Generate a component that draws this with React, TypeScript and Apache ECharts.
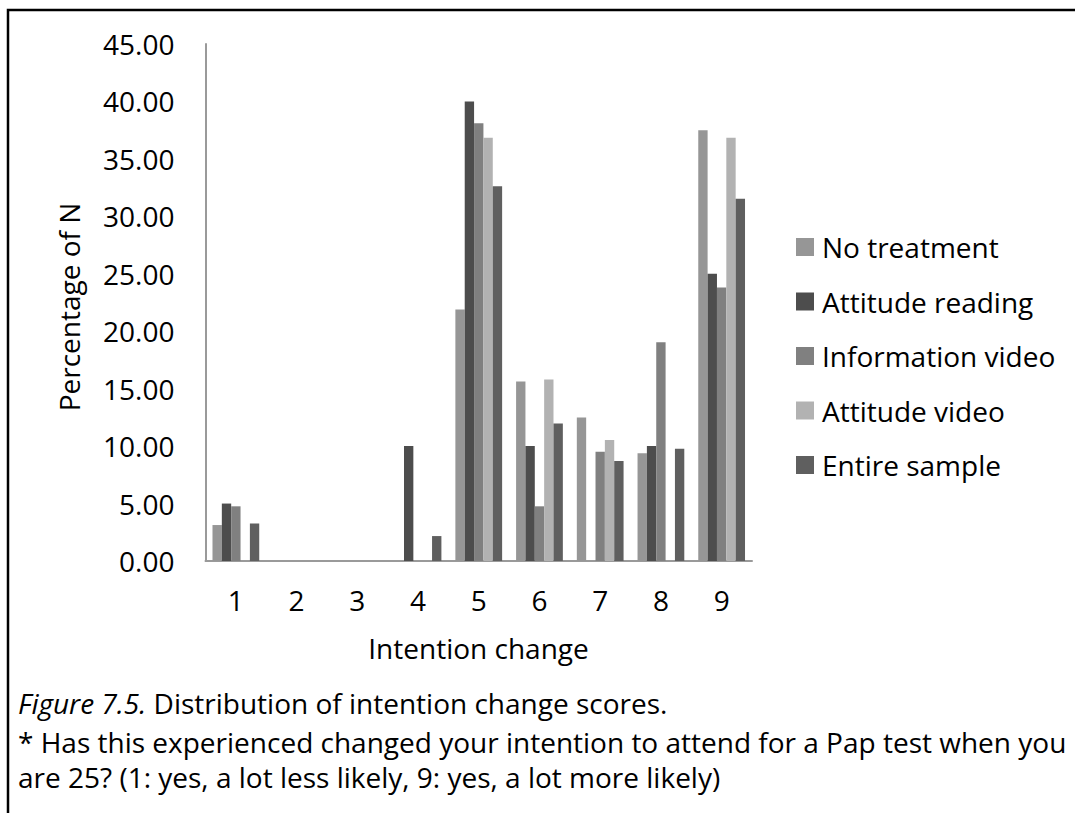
import React, { useEffect, useRef } from "react";
import * as echarts from "echarts";

// Intention change score (1 = a lot less likely ... 9 = a lot more likely)
const categories = ["1", "2", "3", "4", "5", "6", "7", "8", "9"];

// Percentage of N per group
const noTreatment = [3.13, 0, 0, 0, 21.88, 15.63, 12.5, 9.38, 37.5];
const attitudeReading = [5.0, 0, 0, 10.0, 40.0, 10.0, 0, 10.0, 25.0];
const informationVideo = [4.76, 0, 0, 0, 38.1, 4.76, 9.52, 19.05, 23.81];
const attitudeVideo = [0, 0, 0, 0, 36.84, 15.79, 10.53, 0, 36.84];
const entireSample = [3.26, 0, 0, 2.17, 32.61, 11.96, 8.7, 9.78, 31.52];

const seriesNames = [
  "No treatment",
  "Attitude reading",
  "Information video",
  "Attitude video",
  "Entire sample",
];
const seriesValues = [noTreatment, attitudeReading, informationVideo, attitudeVideo, entireSample];
const seriesColors = ["#969696", "#4d4d4d", "#808080", "#b2b2b2", "#5f5f5f"];

const yAxisTitle = "Percentage of N";
const xAxisTitle = "Intention change";
const captionLine1 = "{i|Figure 7.5.} Distribution of intention change scores.";
const captionLine2 =
  "* Has this experienced changed your intention to attend for a Pap test when you";
const captionLine3 = "are 25? (1: yes, a lot less likely, 9: yes, a lot more likely)";

const FONT = "'Open Sans', 'Noto Sans', sans-serif";
const FS = 28;

export default function App() {
  const ref = useRef<HTMLDivElement>(null);

  useEffect(() => {
    if (!ref.current) return;
    const chart = echarts.init(ref.current, undefined, { renderer: "svg" });

    chart.setOption({
      animation: false,
      backgroundColor: "#ffffff",
      textStyle: { fontFamily: FONT, color: "#000000" },
      grid: { left: 205.5, top: 44, width: 546.5, height: 517, containLabel: false },
      legend: {
        orient: "vertical",
        left: 796,
        top: 232,
        padding: 0,
        itemWidth: 18,
        itemHeight: 18,
        itemGap: 24.5,
        icon: "rect",
        textStyle: {
          fontFamily: FONT,
          fontSize: FS,
          color: "#000000",
          lineHeight: 30,
          padding: [0, 0, 0, 3],
        },
        data: seriesNames,
      },
      xAxis: {
        type: "category",
        data: categories,
        axisLine: { lineStyle: { color: "#9a9a9a", width: 2 } },
        axisTick: { show: false },
        axisLabel: { fontFamily: FONT, fontSize: FS, color: "#000000", margin: 25 },
      },
      yAxis: {
        type: "value",
        min: 0,
        max: 45,
        interval: 5,
        splitLine: { show: false },
        axisLine: { show: true, lineStyle: { color: "#9a9a9a", width: 2 } },
        axisTick: { show: false },
        axisLabel: {
          fontFamily: FONT,
          fontSize: FS,
          color: "#000000",
          margin: 31,
          formatter: (v: number) => v.toFixed(2),
        },
      },
      series: seriesNames.map((name, i) => ({
        name,
        type: "bar",
        data: seriesValues[i],
        barGap: "0%",
        barCategoryGap: "23%",
        itemStyle: { color: seriesColors[i] },
      })),
      graphic: [
        // page frame (left and top edges)
        {
          type: "polyline",
          shape: { points: [[8, 813], [8, 10], [1075, 10]] },
          style: { stroke: "#000000", lineWidth: 2.5, fill: "none" },
        },
        {
          type: "text",
          x: 69,
          y: 307,
          rotation: Math.PI / 2,
          style: {
            text: yAxisTitle,
            fontFamily: FONT,
            fontSize: FS,
            fill: "#000000",
            textAlign: "center",
            textVerticalAlign: "middle",
          },
        },
        {
          type: "text",
          x: 478.5,
          y: 648,
          style: {
            text: xAxisTitle,
            fontFamily: FONT,
            fontSize: FS,
            fill: "#000000",
            textAlign: "center",
            textVerticalAlign: "middle",
          },
        },
        {
          type: "text",
          x: 18,
          y: 703,
          style: {
            text: captionLine1,
            fontFamily: FONT,
            fontSize: FS,
            fill: "#000000",
            textVerticalAlign: "middle",
            rich: { i: { fontStyle: "italic", fontFamily: FONT, fontSize: FS } },
          },
        },
        {
          type: "text",
          x: 18,
          y: 742,
          style: {
            text: captionLine2,
            fontFamily: FONT,
            fontSize: FS,
            fill: "#000000",
            textVerticalAlign: "middle",
          },
        },
        {
          type: "text",
          x: 18,
          y: 777,
          style: {
            text: captionLine3,
            fontFamily: FONT,
            fontSize: FS,
            fill: "#000000",
            textVerticalAlign: "middle",
          },
        },
      ],
    });

    return () => chart.dispose();
  }, []);

  return (
    <div
      ref={ref}
      style={{ position: "absolute", left: 0, top: 0, width: 1075, height: 813 }}
    />
  );
}
